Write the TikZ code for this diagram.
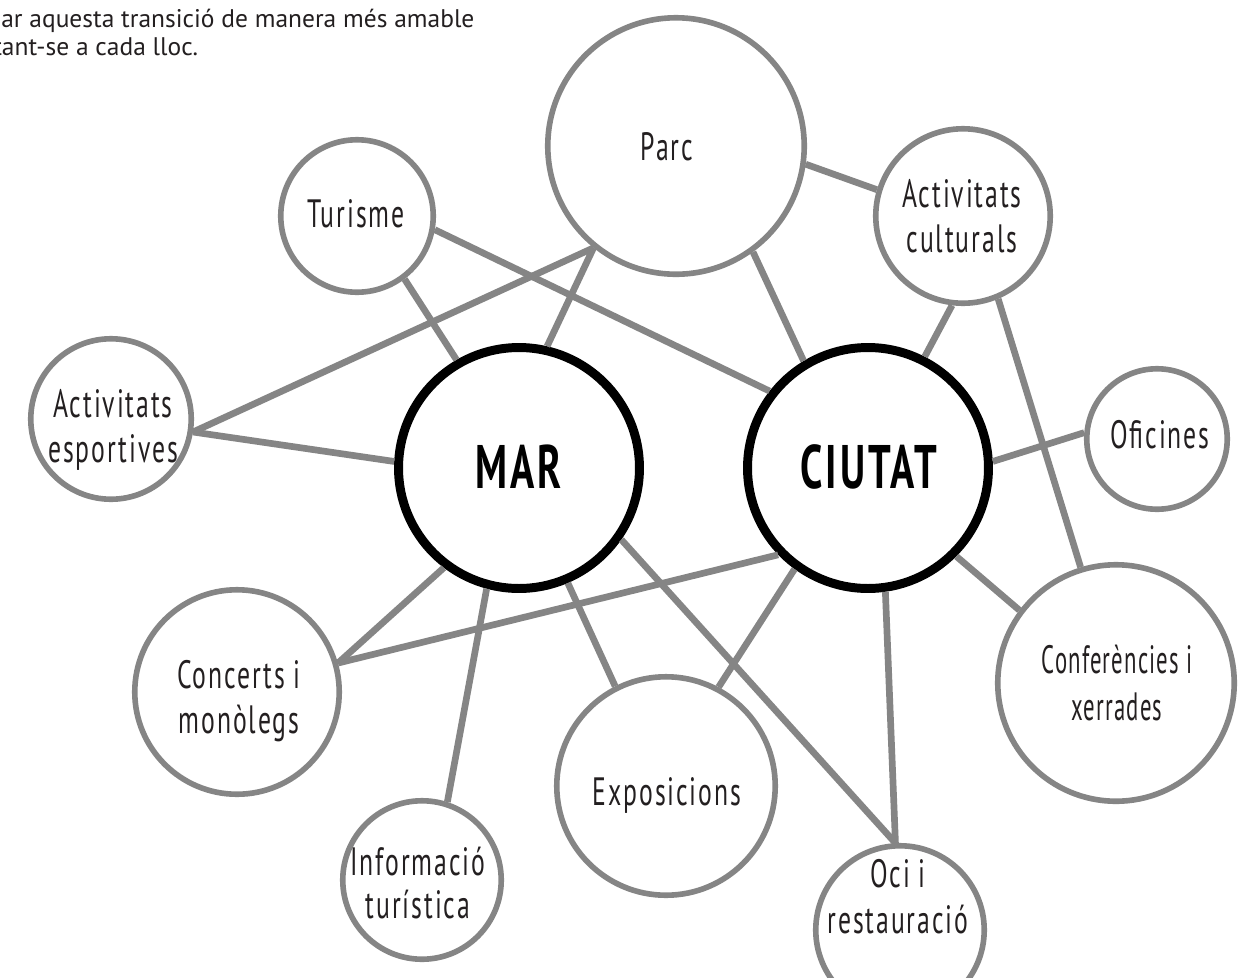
\documentclass[tikz,border=0pt]{standalone}
\usepackage{fontspec}
\setmainfont{PT Sans}
\newfontfamily\cond{PT Sans}[FakeStretch=0.65,LetterSpace=4.8]
\newfontfamily\condn{PT Sans}[FakeStretch=0.575,LetterSpace=2.9]
\definecolor{lg}{RGB}{133,133,133}
\definecolor{txt}{RGB}{35,31,32}
\tikzset{
  sat/.style={circle, draw=lg, line width=3.2pt, fill=white, inner sep=0pt, minimum size=#1},
  hub/.style={circle, draw=black, line width=5.1pt, fill=white, inner sep=0pt, minimum size=#1},
  link/.style={draw=lg, line width=3.8pt},
  lbl/.style={anchor=base, inner sep=0pt, font=\cond\fontsize{22.5}{25}\selectfont, text=txt},
  lbln/.style={anchor=base, inner sep=0pt, font=\condn\fontsize{22.5}{25}\selectfont, text=txt},
  hublbl/.style={anchor=base, inner sep=0pt, font=\cond\bfseries\fontsize{35}{39}\selectfont, text=black},
  head/.style={anchor=base west, inner sep=0pt, font=\fontsize{14.5}{17}\selectfont, text=txt},
}
\begin{document}
\begin{tikzpicture}[x=0.02cm, y=-0.02cm]
\fill[white] (0,0) rectangle (1242,978);
\useasboundingbox (0,0) rectangle (1242,978);

% header text
\node[head] (h1) at (1,27) {ar aquesta transició de manera més amable};
\node[head] (h2) at (-7,55) {tant-se a cada lloc.};

% circles
\node[sat=5.13cm] (parc) at (676,146) {};
\node[sat=3.05cm] (tur) at (357,216) {};
\node[sat=3.49cm] (cult) at (963,216) {};
\node[sat=3.21cm] (esp) at (111,419) {};
\node[sat=2.81cm] (ofi) at (1157,439) {};
\node[sat=4.73cm] (conf) at (1116,683) {};
\node[sat=4.09cm] (conc) at (237,692) {};
\node[sat=4.37cm] (expo) at (666,786) {};
\node[sat=3.17cm] (info) at (422,880) {};
\node[sat=3.37cm] (oci) at (900,930) {};
\node[hub=4.82cm] (mar) at (519,468) {};
\node[hub=4.82cm] (ciu) at (868,468) {};

% connectors
\draw[link] (tur.-53) -- (mar.120);
\draw[link] (tur.-10) -- (ciu.142);
\draw[link] (parc.-129) -- (mar.77);
\draw[link] (parc.-129) -- (esp.-9);
\draw[link] (esp.-9) -- (mar.177);
\draw[link] (parc.-54) -- (ciu.121);
\draw[link] (parc.-8) -- (cult.163);
\draw[link] (cult.-97) -- (ciu.63);
\draw[link] (cult.-67) -- (conf.107);
\draw[link] (ciu.3) -- (ofi.175);
\draw[link] (ciu.-45) -- (conf.143);
\draw[link] (ciu.-82) -- (oci.93);
\draw[link] (mar.-35) -- (oci.93);
\draw[link] (ciu.-126) -- (expo.62);
\draw[link] (mar.-67) -- (expo.117);
\draw[link] (mar.-127) -- (conc.16);
\draw[link] (ciu.-136) -- (conc.16);
\draw[link] (mar.-105) -- (info.72);

% labels
\node[lbl] (tparc) at (667,160) {Parc};
\node[lbl] (ttur) at (356,227) {Turisme};
\node[lbl] (tcult1) at (962,207) {Activitats};
\node[lbl] (tcult2) at (962,252) {culturals};
\node[lbl] (tesp1) at (113,417) {Activitats};
\node[lbl] (tesp2) at (113,462) {esportives};
\node[lbl] (tofi) at (1160,448) {Oficines};
\node[lbln] (tconf1) at (1117,673) {Conferències i};
\node[lbln] (tconf2) at (1117,720) {xerrades};
\node[lbl] (tconc1) at (239,688) {Concerts i};
\node[lbl] (tconc2) at (239,733) {monòlegs};
\node[lbl] (texpo) at (667,805) {Exposicions};
\node[lbl] (tinfo1) at (418,875) {Informació};
\node[lbl] (tinfo2) at (418,918) {turística};
\node[lbl] (toci1) at (898,887) {Oci i};
\node[lbl] (toci2) at (898,933) {restauració};
\node[hublbl] (tmar) at (519,488) {MAR};
\node[hublbl] (tciu) at (869,488) {CIUTAT};
\end{tikzpicture}
\end{document}
